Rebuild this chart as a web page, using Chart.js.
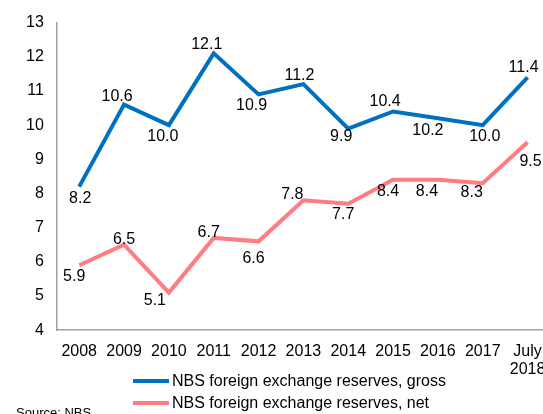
<!DOCTYPE html>
<html>
<head>
<meta charset="utf-8">
<script src="https://cdn.jsdelivr.net/npm/chart.js@4/dist/chart.umd.min.js"></script>
<style>
  html, body { margin: 0; padding: 0; background: #fff; overflow: hidden; width: 543px; height: 414px; }
  #wrap { position: relative; width: 560px; height: 414px; font-family: "Liberation Sans", Arial, sans-serif; }
  #chartCanvas { position: absolute; left: 0; top: 0; }
  .legend { position: absolute; left: 133px; font-size: 16px; color: #000; }
  .legend div { height: 22px; line-height: 22px; white-space: nowrap; }
  .legend span.sw { display: inline-block; width: 36px; height: 4px; vertical-align: middle; margin-right: 3px; position: relative; top: -1px; }
  .source { position: absolute; left: 16px; top: 405px; font-size: 13px; color: #000; }
</style>
</head>
<body>
<div id="wrap">
  <canvas id="chartCanvas" width="560" height="391"></canvas>
  <div class="legend" style="top: 370px;">
    <div><span class="sw" style="background:#0070C0"></span>NBS foreign exchange reserves, gross</div>
    <div><span class="sw" style="background:#FF7C80"></span>NBS foreign exchange reserves, net</div>
  </div>
  <div class="source">Source: NBS</div>
</div>
<script>
const years = ["2008", "2009", "2010", "2011", "2012", "2013", "2014", "2015", "2016", "2017", ["July", "2018"]];
const grossReserves = [8.2, 10.6, 10.0, 12.1, 10.9, 11.2, 9.9, 10.4, 10.2, 10.0, 11.4];
const netReserves = [5.9, 6.5, 5.1, 6.7, 6.6, 7.8, 7.7, 8.4, 8.4, 8.3, 9.5];
const yTicks = [4, 5, 6, 7, 8, 9, 10, 11, 12, 13];

// label nudges (px) – the original labels were placed by hand
const grossLabelShift = [[1, 12], [-7, -8], [-6, 11], [-7, -9], [-7, 11], [-4, -9], [-7, 8], [-8, -10], [-10, 12], [2, 11], [-4, -10]];
const netLabelShift = [[-5, 11], [0, -5], [-14, 8], [-5, -5], [-5, 17], [-11, -6], [-5, 11], [-5, 12], [-11, 12], [-11, 9], [3, 19]];

const valueLabels = {
  id: "valueLabels",
  afterDatasetsDraw(chart) {
    const ctx = chart.ctx;
    const shifts = [grossLabelShift, netLabelShift];
    ctx.save();
    ctx.font = '16px "Liberation Sans", Arial, sans-serif';
    ctx.fillStyle = "#000";
    ctx.textAlign = "center";
    ctx.textBaseline = "middle";
    chart.data.datasets.forEach((ds, di) => {
      const meta = chart.getDatasetMeta(di);
      meta.data.forEach((pt, i) => {
        const s = shifts[di][i];
        ctx.fillText(ds.data[i].toFixed(1), pt.x + s[0], pt.y + s[1]);
      });
    });
    ctx.restore();
  }
};

new Chart(document.getElementById("chartCanvas"), {
  type: "line",
  data: {
    labels: years,
    datasets: [
      {
        label: "NBS foreign exchange reserves, gross",
        data: grossReserves,
        borderColor: "#0070C0",
        borderWidth: 4,
        pointRadius: 0,
        tension: 0,
        fill: false
      },
      {
        label: "NBS foreign exchange reserves, net",
        data: netReserves,
        borderColor: "#FF7C80",
        borderWidth: 4,
        pointRadius: 0,
        tension: 0,
        fill: false
      }
    ]
  },
  options: {
    responsive: false,
    animation: false,
    layout: { padding: { left: 13, right: 10, top: 16, bottom: 0 } },
    plugins: {
      legend: { display: false },
      tooltip: { enabled: false }
    },
    scales: {
      x: {
        offset: true,
        grid: { display: false, drawTicks: false },
        border: { display: true, color: "#a0a0a0", width: 1.5 },
        ticks: {
          color: "#000",
          padding: 12,
          maxRotation: 0,
          autoSkip: false,
          font: { family: '"Liberation Sans", Arial, sans-serif', size: 16, lineHeight: 1.15 }
        }
      },
      y: {
        min: 4,
        max: 13,
        afterBuildTicks(scale) {
          scale.ticks = yTicks.map((v) => ({ value: v }));
        },
        grid: { display: false, drawTicks: false },
        border: { display: true, color: "#a0a0a0", width: 1.5 },
        ticks: {
          color: "#000",
          padding: 13,
          font: { family: '"Liberation Sans", Arial, sans-serif', size: 16 }
        }
      }
    }
  },
  plugins: [valueLabels]
});
</script>
</body>
</html>
